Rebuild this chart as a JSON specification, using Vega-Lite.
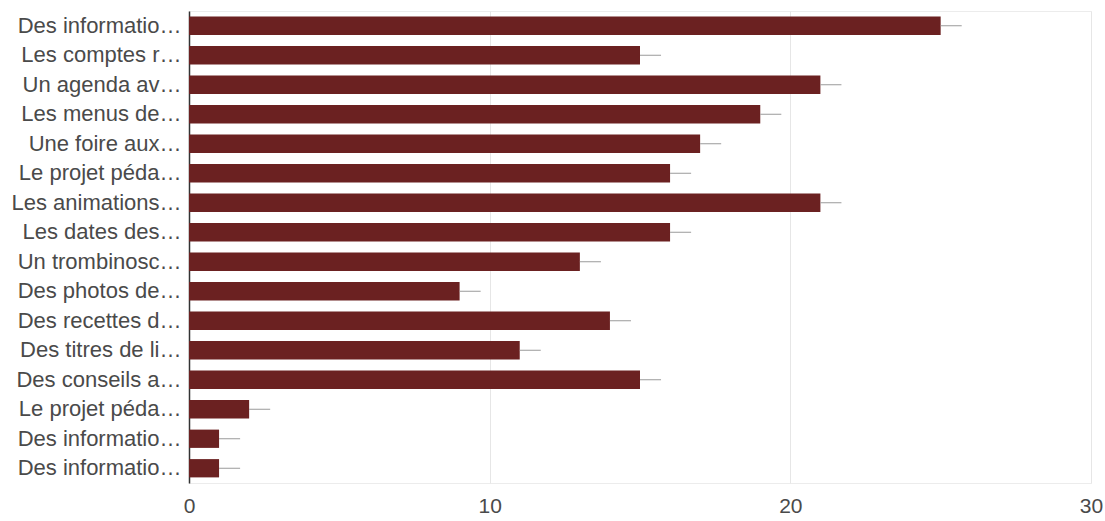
{
  "$schema": "https://vega.github.io/schema/vega-lite/v6.json",
  "autosize": {"type": "none"},
  "width": 902,
  "height": 472,
  "padding": {"left": 189, "top": 11, "right": 14, "bottom": 38},
  "background": "#ffffff",
  "config": {
    "font": "Liberation Sans",
    "view": {"stroke": "#ececec", "strokeWidth": 1}
  },
  "data": {
    "values": [
      {"item": "01|Des informatio…", "reponses": 25, "haut": 25.7},
      {"item": "02|Les comptes r…", "reponses": 15, "haut": 15.7},
      {"item": "03|Un agenda av…", "reponses": 21, "haut": 21.7},
      {"item": "04|Les menus de…", "reponses": 19, "haut": 19.7},
      {"item": "05|Une foire aux…", "reponses": 17, "haut": 17.7},
      {"item": "06|Le projet péda…", "reponses": 16, "haut": 16.7},
      {"item": "07|Les animations…", "reponses": 21, "haut": 21.7},
      {"item": "08|Les dates des…", "reponses": 16, "haut": 16.7},
      {"item": "09|Un trombinosc…", "reponses": 13, "haut": 13.7},
      {"item": "10|Des photos de…", "reponses": 9, "haut": 9.7},
      {"item": "11|Des recettes d…", "reponses": 14, "haut": 14.7},
      {"item": "12|Des titres de li…", "reponses": 11, "haut": 11.7},
      {"item": "13|Des conseils a…", "reponses": 15, "haut": 15.7},
      {"item": "14|Le projet péda…", "reponses": 2, "haut": 2.7},
      {"item": "15|Des informatio…", "reponses": 1, "haut": 1.7},
      {"item": "16|Des informatio…", "reponses": 1, "haut": 1.7}
    ]
  },
  "encoding": {
    "y": {
      "field": "item",
      "type": "nominal",
      "sort": "ascending",
      "scale": {"paddingInner": 0.38, "paddingOuter": 0.19},
      "axis": {
        "title": null,
        "labelExpr": "split(datum.value, '|')[1]",
        "labelFont": "Liberation Sans",
        "labelFontSize": 22,
        "labelColor": "#4a4a4a",
        "labelPadding": 8,
        "labelLimit": 300,
        "ticks": false,
        "domain": true,
        "domainColor": "#333333",
        "domainWidth": 1.5,
        "grid": false
      }
    }
  },
  "layer": [
    {
      "mark": {"type": "bar", "color": "#6b2121"},
      "encoding": {
        "x": {
          "field": "reponses",
          "type": "quantitative",
          "scale": {"domain": [0, 30], "nice": false},
          "axis": {
            "title": null,
            "values": [0, 10, 20, 30],
            "labelFont": "Liberation Sans",
            "labelFontSize": 21,
            "labelColor": "#4a4a4a",
            "labelPadding": 12,
            "ticks": false,
            "domain": false,
            "grid": true,
            "gridColor": "#e6e6e6",
            "labelFlush": false
          }
        }
      }
    },
    {
      "mark": {"type": "rule", "color": "#9a9a9a", "strokeWidth": 1},
      "encoding": {
        "x": {"field": "reponses", "type": "quantitative"},
        "x2": {"field": "haut"}
      }
    }
  ]
}
